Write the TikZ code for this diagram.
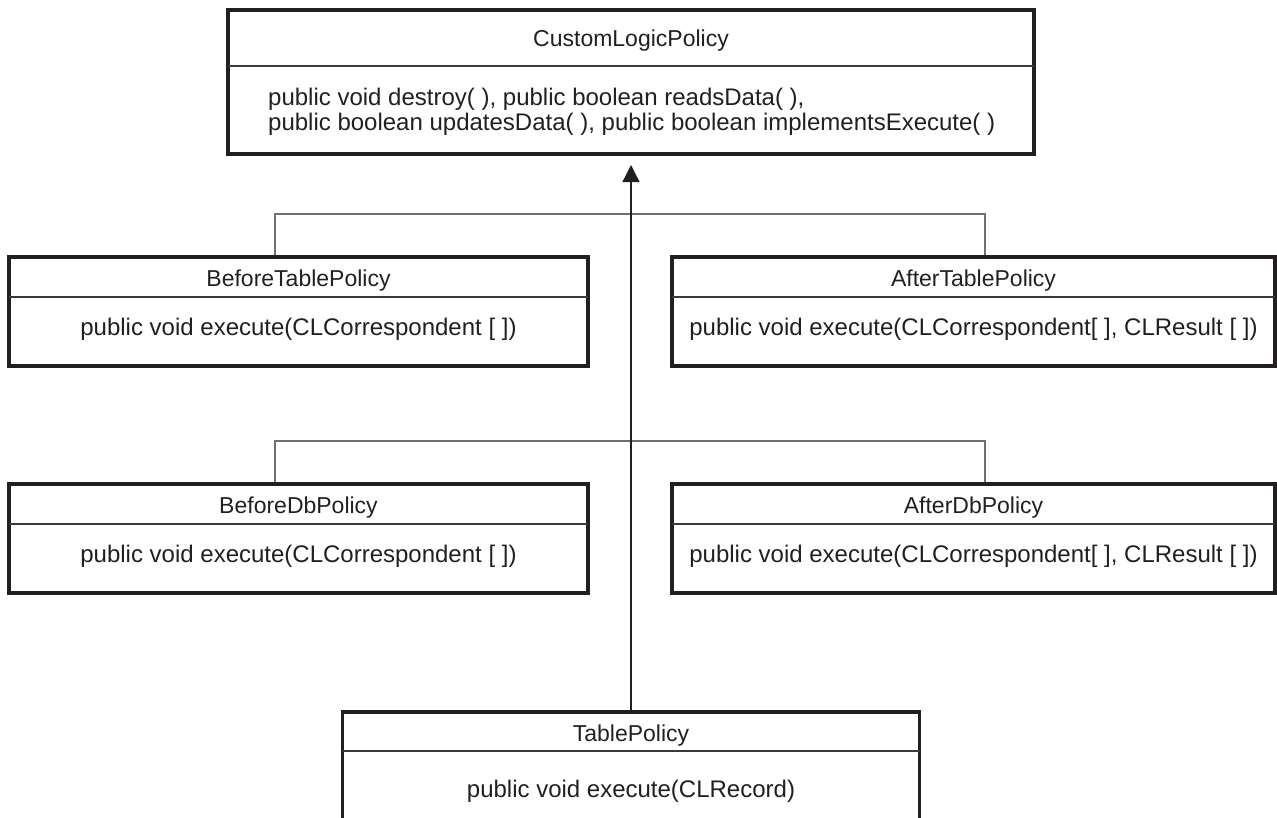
\documentclass[tikz,border=0pt]{standalone}
\usepackage{fontspec}
\setmainfont{Liberation Sans}
\usetikzlibrary{arrows.meta}
\definecolor{ink}{HTML}{231F20}
\definecolor{linegray}{HTML}{707072}
\definecolor{divgray}{HTML}{3A3A3A}
\begin{document}
\begin{tikzpicture}[x=1pt,y=-1pt,
  umlbox/.style={draw=ink, line width=3.2pt, inner sep=0pt},
  divider/.style={draw=divgray, line width=1.2pt},
  conn/.style={draw=linegray, line width=1.3pt},
  mainline/.style={draw=ink, line width=1.3pt},
  txt/.style={font=\fontsize{23}{26}\selectfont, text=ink, inner sep=0pt, anchor=base},
  btxt/.style={font=\fontsize{24}{27}\selectfont, text=ink, inner sep=0pt, anchor=base}]
\useasboundingbox (0,0) rectangle (1277,817);
\clip (0,0) rectangle (1277,817);
% CustomLogicPolicy
\node[umlbox, minimum width=806pt, minimum height=144pt] (clp) at (631,82) {};
\draw[divider] (228,66) -- (1034,66);
\node[txt] (clpt) at (631,46) {CustomLogicPolicy};
\node[btxt, anchor=base west] (clpb1) at (268,105) {public void destroy( ), public boolean readsData( ),};
\node[btxt, anchor=base west] (clpb2) at (268,130) {public boolean updatesData( ), public boolean implementsExecute( )};
% BeforeTablePolicy
\node[umlbox, minimum width=579pt, minimum height=109pt] (btp) at (298.5,311.5) {};
\draw[divider] (9,297) -- (588,297);
\node[txt] (btpt) at (298.5,286) {BeforeTablePolicy};
\node[btxt] (btpb) at (298.5,335) {public void execute(CLCorrespondent [ ])};
% AfterTablePolicy
\node[umlbox, minimum width=603pt, minimum height=109pt] (atp) at (973.5,311.5) {};
\draw[divider] (672,297) -- (1275,297);
\node[txt] (atpt) at (973.5,286) {AfterTablePolicy};
\node[btxt] (atpb) at (973.5,335) {public void execute(CLCorrespondent[ ], CLResult [ ])};
% BeforeDbPolicy
\node[umlbox, minimum width=579pt, minimum height=109pt] (bdp) at (298.5,538.5) {};
\draw[divider] (9,524) -- (588,524);
\node[txt] (bdpt) at (298.5,513) {BeforeDbPolicy};
\node[btxt] (bdpb) at (298.5,562) {public void execute(CLCorrespondent [ ])};
% AfterDbPolicy
\node[umlbox, minimum width=603pt, minimum height=109pt] (adp) at (973.5,538.5) {};
\draw[divider] (672,524) -- (1275,524);
\node[txt] (adpt) at (973.5,513) {AfterDbPolicy};
\node[btxt] (adpb) at (973.5,562) {public void execute(CLCorrespondent[ ], CLResult [ ])};
% TablePolicy
\node[umlbox, minimum width=577pt, minimum height=138pt] (tp) at (631,781) {};
\draw[divider] (342.5,751) -- (919.5,751);
\node[txt] (tpt) at (631,741) {TablePolicy};
\node[btxt] (tpb) at (631,797) {public void execute(CLRecord)};
% connectors
\coordinate (r1l) at (275,214);
\coordinate (r1r) at (985,214);
\coordinate (r2l) at (275,441);
\coordinate (r2r) at (985,441);
\draw[conn] (btp.north -| r1l) -- (r1l) -- (r1r) -- (atp.north -| r1r);
\draw[conn] (bdp.north -| r2l) -- (r2l) -- (r2r) -- (adp.north -| r2r);
\coordinate (tip) at (631,165);
\draw[mainline, -{Triangle[length=17pt,width=17pt]}] (tp.north) -- (tip);
\end{tikzpicture}
\end{document}
